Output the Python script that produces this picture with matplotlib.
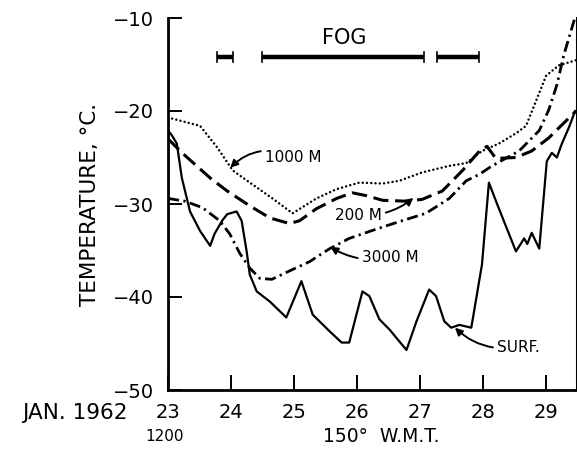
import matplotlib
matplotlib.use("Agg")
import matplotlib.pyplot as plt

plt.rcParams['font.family'] = ['DejaVu Sans']

# --- data (day of Jan. 1962, temperature in deg C) ---
surf_day = [23.0, 23.06, 23.14, 23.22, 23.35, 23.51, 23.67, 23.74, 23.86, 23.94,
            24.09, 24.17, 24.25, 24.3, 24.41, 24.62, 24.88, 25.12, 25.3, 25.57,
            25.76, 25.88, 26.09, 26.2, 26.36, 26.52, 26.79, 26.95, 27.15, 27.26,
            27.39, 27.5, 27.63, 27.82, 27.99, 28.1, 28.23, 28.53, 28.66, 28.71,
            28.78, 28.9, 29.02, 29.1, 29.18, 29.26, 29.37, 29.47]
surf_temp = [-22.1, -22.6, -23.5, -27.2, -30.8, -32.9, -34.5, -33.2, -31.8, -31.1,
             -30.8, -31.8, -35.1, -37.6, -39.4, -40.5, -42.2, -38.3, -41.9, -43.7,
             -44.9, -44.9, -39.4, -39.9, -42.4, -43.5, -45.7, -42.6, -39.2, -39.9,
             -42.6, -43.3, -43.0, -43.3, -36.5, -27.7, -30.0, -35.1, -33.7, -34.3,
             -33.1, -34.8, -25.4, -24.5, -25.0, -23.5, -21.8, -20.0]

m1000_day = [23.0, 23.51, 23.78, 24.03, 24.3, 24.66, 24.98, 25.36, 25.68, 26.04,
             26.41, 26.68, 27.04, 27.47, 27.74, 27.99, 28.26, 28.53, 28.69, 28.85,
             29.01, 29.21, 29.5]
m1000_temp = [-20.7, -21.6, -23.9, -26.4, -27.7, -29.4, -31.0, -29.4, -28.4, -27.7,
              -27.8, -27.5, -26.6, -25.9, -25.6, -24.3, -23.5, -22.4, -21.6, -18.9,
              -16.2, -15.1, -14.5]

m200_day = [23.0, 23.24, 23.67, 23.94, 24.3, 24.62, 24.93, 25.09, 25.36, 25.68,
            25.93, 26.15, 26.41, 26.79, 27.04, 27.36, 27.68, 27.95, 28.07, 28.21,
            28.53, 28.78, 29.05, 29.47]
m200_temp = [-23.0, -24.6, -27.2, -28.6, -30.2, -31.5, -32.1, -31.8, -30.5, -29.4,
             -28.8, -29.1, -29.6, -29.7, -29.5, -28.6, -26.4, -24.3, -23.8, -25.1,
             -25.0, -24.3, -22.9, -20.1]

m3000_day = [23.0, 23.27, 23.55, 23.82, 23.98, 24.14, 24.3, 24.46, 24.65, 24.93,
             25.25, 25.57, 25.88, 26.31, 26.72, 27.1, 27.47, 27.74, 27.95, 28.15,
             28.58, 28.9, 29.05, 29.18, 29.29, 29.47]
m3000_temp = [-29.4, -29.7, -30.4, -31.8, -33.2, -35.3, -36.9, -38.0, -38.1, -37.2,
              -36.2, -34.8, -33.7, -32.7, -31.8, -31.0, -29.4, -27.5, -26.8, -25.9,
              -24.3, -22.1, -19.9, -17.2, -14.0, -9.9]

# fog periods (start day, end day)
fog_start = [23.78, 24.5, 27.28]
fog_end = [24.03, 27.07, 27.94]

x_ticks = [23, 24, 25, 26, 27, 28, 29]
y_ticks = [-50, -40, -30, -20, -10]

fig = plt.figure(figsize=(5.77, 4.49), dpi=100)
ax = fig.add_axes([168 / 577, 59 / 449, 409 / 577, 372 / 449])

ax.plot(surf_day, surf_temp, color='black', lw=1.6, solid_joinstyle='round')
ax.plot(m1000_day, m1000_temp, color='black', lw=1.8,
        linestyle=(0, (0.01, 1.7)), dash_capstyle='round')
ax.plot(m200_day, m200_temp, color='black', lw=2.2, linestyle=(0, (5, 2.2)))
ax.plot(m3000_day, m3000_temp, color='black', lw=2.0,
        linestyle=(0, (4, 1.6, 0.8, 1.6)))

# fog bars with end caps
for s, e in zip(fog_start, fog_end):
    ax.plot([s, e], [-14.2, -14.2], color='black', lw=3.2, solid_capstyle='butt')
    ax.plot([s, s], [-13.7, -14.7], color='black', lw=1.2)
    ax.plot([e, e], [-13.7, -14.7], color='black', lw=1.2)
ax.text(25.8, -12.2, 'FOG', ha='center', va='center', fontsize=15)

# curve labels with arrows
arrow = dict(arrowstyle='-|>', color='black', lw=1.4, mutation_scale=11,
             shrinkA=1, shrinkB=0)
ax.annotate('1000 M', xy=(23.99, -26.1), xytext=(24.54, -24.95), fontsize=11,
            ha='left', va='center',
            arrowprops=dict(arrow, connectionstyle='arc3,rad=0.35'))
ax.annotate('200 M', xy=(26.9, -29.35), xytext=(25.65, -31.2), fontsize=11,
            ha='left', va='center',
            arrowprops=dict(arrow, connectionstyle='arc3,rad=0.2'))
ax.annotate('3000 M', xy=(25.58, -34.6), xytext=(26.08, -35.8), fontsize=11,
            ha='left', va='center',
            arrowprops=dict(arrow, connectionstyle='arc3,rad=-0.2'))
ax.annotate('SURF.', xy=(27.56, -43.3), xytext=(28.23, -45.4), fontsize=11,
            ha='left', va='center',
            arrowprops=dict(arrow, connectionstyle='arc3,rad=-0.25'))

ax.set_xlim(23, 29.5)
ax.set_ylim(-50, -10)
ax.set_xticks(x_ticks)
ax.set_xticklabels([str(t) for t in x_ticks])
ax.set_yticks(y_ticks)
ax.set_yticklabels(['\u2212' + str(abs(t)) for t in y_ticks])
ax.tick_params(axis='x', direction='in', length=11, width=1.4, labelsize=14, pad=9)
ax.tick_params(axis='y', direction='in', length=10, width=1.4, labelsize=14, pad=10)

ax.spines['top'].set_visible(False)
ax.spines['left'].set_linewidth(2)
ax.spines['bottom'].set_linewidth(2)
ax.spines['right'].set_linewidth(1.5)

ax.set_ylabel('TEMPERATURE, \u00b0C.', fontsize=15.5)
ax.yaxis.set_label_coords(-0.166, 0.5)

ax.text(22.36, -52.5, 'JAN. 1962', ha='right', va='center', fontsize=15.5,
        clip_on=False)
ax.text(22.95, -55.0, '1200', ha='center', va='center', fontsize=11, clip_on=False)
ax.text(26.39, -55.0, '150\u00b0  W.M.T.', ha='center', va='center', fontsize=13.5,
        clip_on=False)

fig.savefig('out.png', dpi=100)
